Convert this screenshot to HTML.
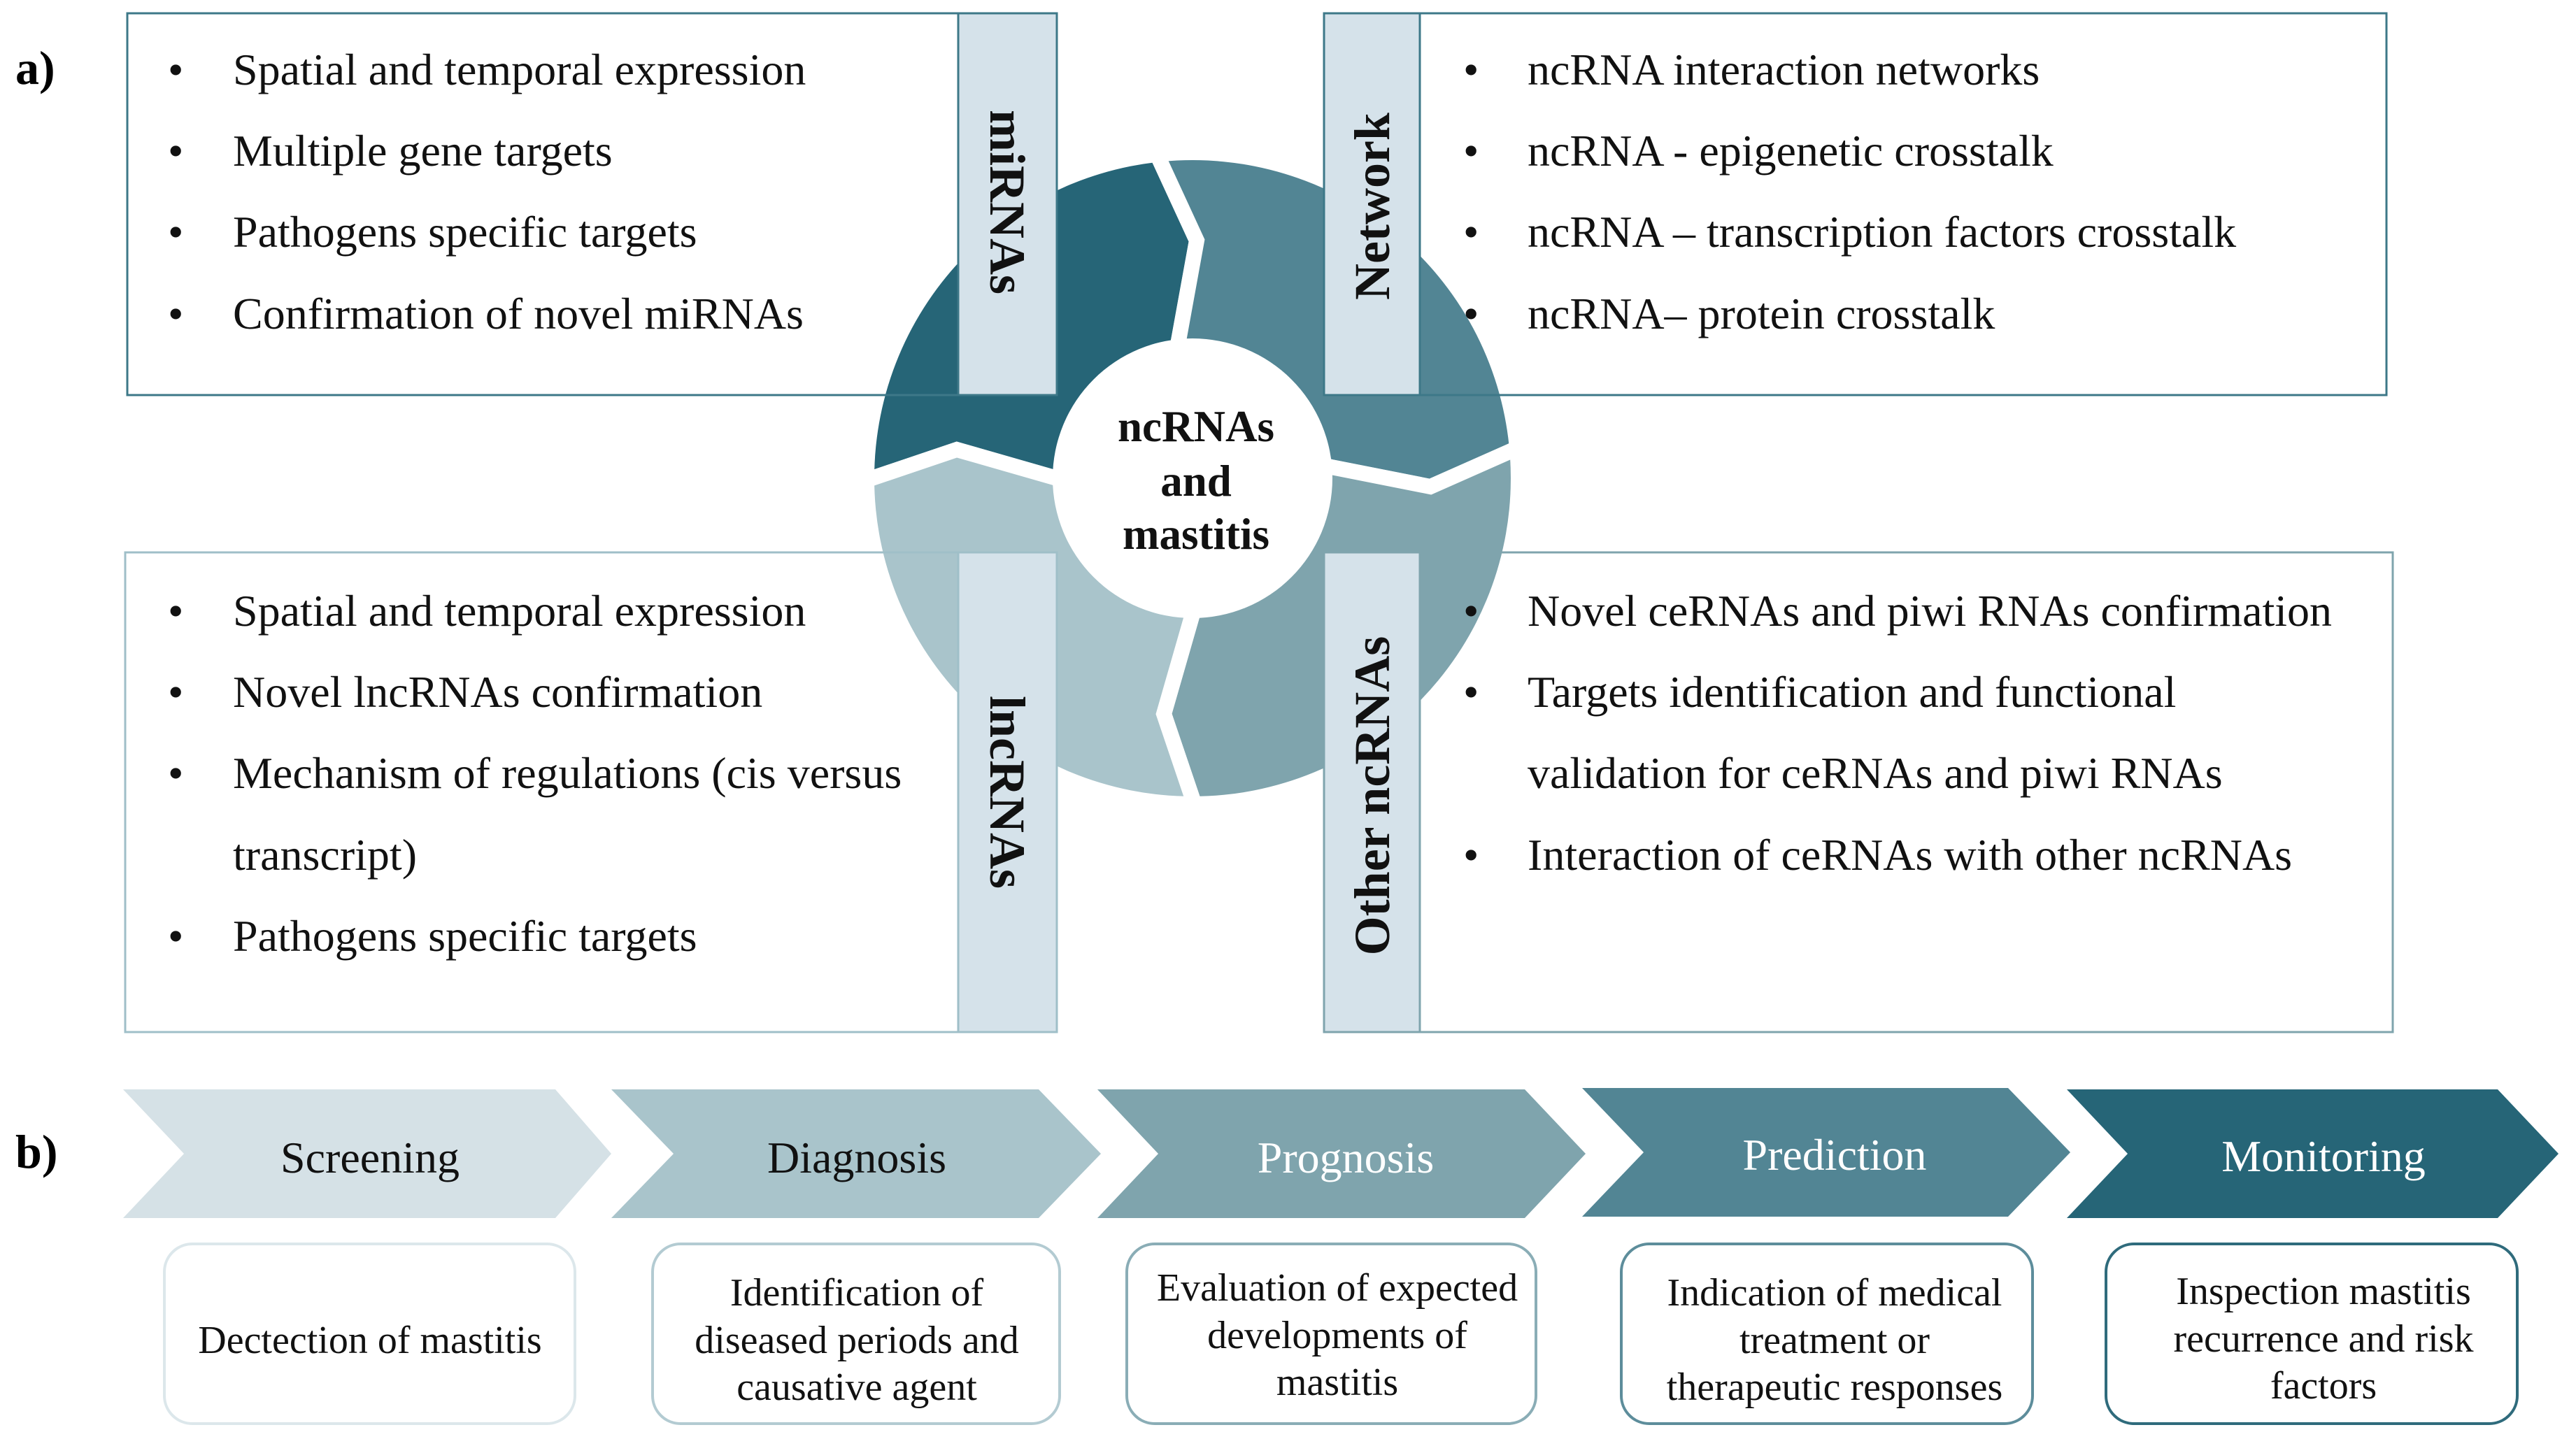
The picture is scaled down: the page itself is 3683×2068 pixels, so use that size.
<!DOCTYPE html>
<html><head><meta charset="utf-8"><style>
html,body{margin:0;padding:0;background:#fff;}
svg{display:block;}
text{font-family:"Liberation Serif",serif;}
</style></head><body>
<svg width="3683" height="2068" viewBox="0 0 3683 2068" xmlns="http://www.w3.org/2000/svg">
<defs>
<mask id="ann">
<rect x="0" y="0" width="3683" height="2068" fill="black"/>
<circle cx="1705" cy="684" r="455" fill="white"/>
<circle cx="1705" cy="684" r="200" fill="black"/>
</mask>
</defs>
<rect width="3683" height="2068" fill="#fff"/>

<g mask="url(#ann)" stroke="#fff" stroke-width="22" stroke-linejoin="miter">
<polygon fill="#266577" points="1556,697 1368,643 1087,738 986,142 1587,75 1711,344 1676,537 1705,684"/>
<polygon fill="#528594" points="1676,537 1711,344 1587,75 2221,-53 2316,576 2045,696 1853,658 1705,684"/>
<polygon fill="#7fa4ad" points="1853,658 2045,696 2316,576 2424,1226 1759,1302 1664,1021 1718,833 1705,684"/>
<polygon fill="#a9c4cb" points="1718,833 1664,1021 1759,1302 1126,1373 1087,738 1368,643 1556,697 1705,684"/>
</g>
<g font-weight="bold" font-size="63" text-anchor="middle" fill="#111">
<text x="1710" y="631">ncRNAs</text>
<text x="1710" y="709">and</text>
<text x="1710" y="785">mastitis</text>
</g>

<text x="22" y="120" font-size="68" font-weight="bold">a)</text>
<text x="22" y="1670" font-size="68" font-weight="bold">b)</text>

<rect x="182" y="19" width="1329" height="546" fill="none" stroke="#3d7888" stroke-width="3"/>
<rect x="1370" y="19" width="141" height="546" fill="#d5e2ea" stroke="#3d7888" stroke-width="3"/>
<rect x="1893" y="19" width="1519" height="546" fill="none" stroke="#3d7888" stroke-width="3"/>
<rect x="1893" y="19" width="137" height="546" fill="#d5e2ea" stroke="#3d7888" stroke-width="3"/>
<rect x="179" y="790" width="1332" height="686" fill="none" stroke="#9fbfc8" stroke-width="3"/>
<rect x="1370" y="790" width="141" height="686" fill="#d5e2ea" stroke="#9fbfc8" stroke-width="3"/>
<rect x="1893" y="790" width="1528" height="686" fill="none" stroke="#7fa4ad" stroke-width="3"/>
<rect x="1893" y="790" width="137" height="686" fill="#d5e2ea" stroke="#7fa4ad" stroke-width="3"/>

<g font-weight="bold" font-size="72" text-anchor="middle" fill="#111">
<text transform="translate(1416,289) rotate(90)">miRNAs</text>
<text transform="translate(1986,295) rotate(-90)">Network</text>
<text transform="translate(1416,1133) rotate(90)">lncRNAs</text>
<text transform="translate(1986,1138) rotate(-90)">Other ncRNAs</text>
</g>

<g font-size="64" fill="#111">
<text x="240" y="121">•</text><text x="333" y="121">Spatial and temporal expression</text>
<text x="240" y="237">•</text><text x="333" y="237">Multiple gene targets</text>
<text x="240" y="353">•</text><text x="333" y="353">Pathogens specific targets</text>
<text x="240" y="470">•</text><text x="333" y="470">Confirmation of novel miRNAs</text>

<text x="2092" y="121">•</text><text x="2184" y="121">ncRNA interaction networks</text>
<text x="2092" y="237">•</text><text x="2184" y="237">ncRNA - epigenetic crosstalk</text>
<text x="2092" y="353">•</text><text x="2184" y="353">ncRNA – transcription factors crosstalk</text>
<text x="2092" y="470">•</text><text x="2184" y="470">ncRNA– protein crosstalk</text>

<text x="240" y="895">•</text><text x="333" y="895">Spatial and temporal expression</text>
<text x="240" y="1011">•</text><text x="333" y="1011">Novel lncRNAs confirmation</text>
<text x="240" y="1127">•</text><text x="333" y="1127">Mechanism of regulations (cis versus</text>
<text x="333" y="1244">transcript)</text>
<text x="240" y="1360">•</text><text x="333" y="1360">Pathogens specific targets</text>

<text x="2092" y="895">•</text><text x="2184" y="895">Novel ceRNAs and piwi RNAs confirmation</text>
<text x="2092" y="1011">•</text><text x="2184" y="1011">Targets identification and functional</text>
<text x="2184" y="1127">validation for ceRNAs and piwi RNAs</text>
<text x="2092" y="1244">•</text><text x="2184" y="1244">Interaction of ceRNAs with other ncRNAs</text>
</g>

<polygon fill="#d5e1e6" points="176,1558 794,1558 874,1650 794,1742 176,1742 263,1650"/>
<polygon fill="#a9c4cb" points="874,1558 1485,1558 1574,1650 1485,1742 874,1742 963,1650"/>
<polygon fill="#7fa4ad" points="1569,1558 2180,1558 2267,1650 2180,1742 1569,1742 1656,1650"/>
<polygon fill="#528594" points="2262,1556 2871,1556 2960,1648 2871,1740 2262,1740 2350,1648"/>
<polygon fill="#266577" points="2955,1558 3571,1558 3658,1650 3571,1742 2955,1742 3042,1650"/>
<g font-size="64" text-anchor="middle">
<text x="529" y="1677" fill="#111">Screening</text>
<text x="1225" y="1677" fill="#111">Diagnosis</text>
<text x="1924" y="1677" fill="#fff">Prognosis</text>
<text x="2623" y="1673" fill="#fff">Prediction</text>
<text x="3322" y="1675" fill="#fff">Monitoring</text>
</g>

<rect x="235" y="1779" width="587" height="257" rx="40" fill="#fff" stroke="#dce7eb" stroke-width="4"/>
<rect x="933" y="1779" width="582" height="257" rx="40" fill="#fff" stroke="#b3cbd2" stroke-width="4"/>
<rect x="1611" y="1779" width="585" height="257" rx="40" fill="#fff" stroke="#8aadb6" stroke-width="4"/>
<rect x="2318" y="1779" width="588" height="257" rx="40" fill="#fff" stroke="#5d8d9b" stroke-width="4"/>
<rect x="3011" y="1779" width="588" height="257" rx="40" fill="#fff" stroke="#2f6b7c" stroke-width="4"/>
<g font-size="56" text-anchor="middle" fill="#111">
<text x="529" y="1935">Dectection of mastitis</text>
<text x="1225" y="1867">Identification of</text>
<text x="1225" y="1935">diseased periods and</text>
<text x="1225" y="2002">causative agent</text>
<text x="1912" y="1860">Evaluation of expected</text>
<text x="1912" y="1928">developments of</text>
<text x="1912" y="1995">mastitis</text>
<text x="2623" y="1867">Indication of medical</text>
<text x="2623" y="1935">treatment or</text>
<text x="2623" y="2002">therapeutic responses</text>
<text x="3322" y="1865">Inspection mastitis</text>
<text x="3322" y="1933">recurrence and risk</text>
<text x="3322" y="2000">factors</text>
</g>
</svg>
</body></html>
